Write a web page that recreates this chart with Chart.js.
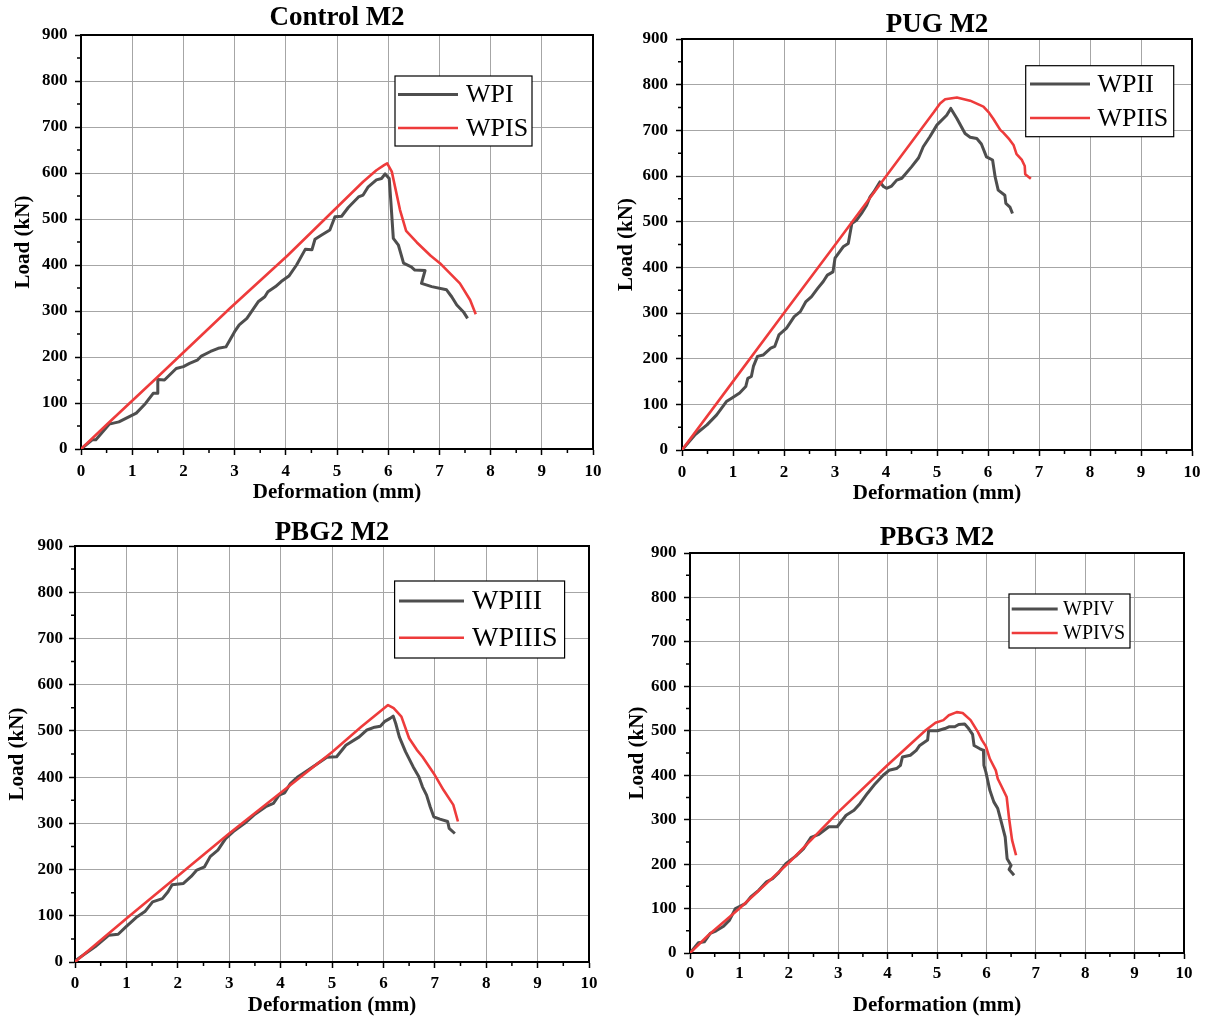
<!DOCTYPE html>
<html>
<head>
<meta charset="utf-8">
<title>Load - deformation curves, M2 series</title>
<script src="https://cdn.jsdelivr.net/npm/chart.js@4.4.0/dist/chart.umd.min.js"></script>
<style>
  html, body { margin: 0; padding: 0; background: #fff; overflow: hidden; }
  #sheet { position: relative; width: 1209px; height: 1018px; overflow: hidden; }
  #sheet canvas { position: absolute; }
</style>
</head>
<body>
<div id="sheet"></div>
<script>
// Deformation (mm) / load (kN) readings, one pair of arrays per specimen

// Control M2
const wpiDef = [0, 0.22, 0.29, 0.55, 0.74, 1.08, 1.26, 1.41, 1.49, 1.5, 1.63, 1.86, 2.0, 2.12, 2.27, 2.35, 2.53, 2.68, 2.83, 3.0,
  3.09, 3.24, 3.35, 3.46, 3.59, 3.65, 3.8, 3.91, 4.06, 4.21, 4.38, 4.51, 4.57, 4.70, 4.86, 4.96, 5.09, 5.22, 5.42, 5.51,
  5.61, 5.77, 5.87, 5.94, 6.02, 6.05, 6.10, 6.20, 6.30, 6.45, 6.52, 6.72, 6.65, 6.85, 7.14, 7.24, 7.34, 7.47, 7.55];
const wpiLoad = [0, 20, 20, 54, 59, 78, 99, 121, 121, 151, 150, 175, 179, 186, 193, 202, 212, 219, 222, 255,
  270, 284, 302, 320, 331, 342, 353, 364, 376, 400, 434, 433, 456, 465, 476, 505, 506, 525, 548, 552,
  570, 585, 588, 598, 588, 541, 458, 443, 404, 396, 389, 388, 360, 353, 346, 331, 313, 298, 284];
const wpisDef = [0, 0.52, 1.49, 2.91, 4.03, 5.51, 5.77, 5.92, 5.98, 6.07, 6.23, 6.35, 6.56, 6.83, 7.01, 7.40, 7.6, 7.71];
const wpisLoad = [0, 55, 156, 306, 420, 581, 606, 617, 621, 603, 520, 474, 449, 420, 404, 360, 324, 293];

// PUG M2
const wpiiDef = [0, 0.26, 0.49, 0.68, 0.87, 0.98, 1.13, 1.25, 1.29, 1.36, 1.40, 1.48, 1.59, 1.74, 1.82, 1.90, 2.05, 2.20, 2.32, 2.43,
  2.54, 2.66, 2.77, 2.85, 2.96, 3.0, 3.16, 3.26, 3.33, 3.42, 3.52, 3.62, 3.69, 3.76, 3.88, 3.95, 4.01, 4.11, 4.21, 4.31,
  4.50, 4.64, 4.73, 4.86, 5.0, 5.19, 5.27, 5.39, 5.55, 5.65, 5.78, 5.87, 5.97, 6.09, 6.14, 6.20, 6.33, 6.35, 6.43, 6.48];
const wpiiLoad = [0, 34, 55, 77, 106, 114, 125, 139, 157, 161, 183, 205, 208, 223, 227, 252, 267, 292, 303, 325,
  336, 354, 369, 383, 390, 420, 445, 452, 496, 503, 518, 536, 555, 565, 587, 577, 573, 578, 591, 595,
  620, 640, 664, 686, 712, 733, 748, 726, 693, 685, 682, 670, 642, 635, 598, 569, 558, 540, 532, 518];
const wpiisDef = [0, 1.02, 2.0, 3.0, 3.99, 4.94, 5.06, 5.16, 5.39, 5.65, 5.91, 6.01, 6.10, 6.24, 6.30, 6.42, 6.50, 6.56, 6.66, 6.72, 6.73, 6.84];
const wpiisLoad = [0, 153, 300, 449, 598, 740, 759, 768, 772, 765, 752, 740, 726, 701, 695, 680, 668, 648, 636, 622, 604, 594];

// PBG2 M2
const wpiiiDef = [0, 0.02, 0.21, 0.39, 0.66, 0.84, 0.99, 1.21, 1.36, 1.51, 1.70, 1.81, 1.89, 2.11, 2.26, 2.37, 2.52, 2.63, 2.78, 2.93,
  3.08, 3.30, 3.48, 3.71, 3.86, 3.97, 4.08, 4.19, 4.34, 4.53, 4.68, 4.90, 5.09, 5.27, 5.53, 5.68, 5.83, 5.94, 6.02, 6.13,
  6.19, 6.24, 6.31, 6.43, 6.58, 6.69, 6.76, 6.84, 6.91, 6.98, 7.10, 7.25, 7.28, 7.39];
const wpiiiLoad = [0, 4, 19, 33, 58, 60, 76, 98, 109, 130, 137, 152, 167, 170, 185, 199, 206, 228, 242, 267,
  282, 300, 318, 336, 343, 361, 366, 386, 401, 415, 426, 443, 444, 469, 487, 502, 508, 510, 520, 527,
  532, 516, 487, 455, 422, 401, 379, 361, 336, 314, 309, 304, 289, 278];
const wpiiisDef = [0, 0.66, 1.03, 3.0, 5.01, 5.57, 6.09, 6.2, 6.35, 6.5, 6.65, 6.76, 6.98, 7.17, 7.36, 7.45];
const wpiiisLoad = [0, 62, 97, 278, 455, 509, 556, 549, 531, 484, 459, 444, 408, 372, 340, 304];

// PBG3 M2
const wpivDef = [0, 0.17, 0.29, 0.41, 0.53, 0.68, 0.80, 0.92, 1.12, 1.23, 1.39, 1.55, 1.67, 1.78, 1.94, 2.14, 2.30, 2.45, 2.61, 2.81,
  2.98, 3.16, 3.32, 3.44, 3.59, 3.75, 3.91, 4.03, 4.18, 4.26, 4.30, 4.46, 4.58, 4.65, 4.81, 4.83, 5.01, 5.16, 5.24, 5.36,
  5.44, 5.56, 5.64, 5.72, 5.75, 5.86, 5.94, 5.95, 5.99, 6.07, 6.15, 6.23, 6.31, 6.38, 6.42, 6.50, 6.46, 6.56];
const wpivLoad = [0, 23, 25, 44, 50, 60, 74, 100, 111, 126, 141, 160, 167, 179, 201, 218, 235, 260, 267, 284,
  284, 310, 321, 336, 359, 381, 400, 411, 415, 422, 441, 445, 456, 467, 479, 500, 500, 505, 509, 509,
  514, 515, 505, 492, 467, 460, 456, 422, 407, 366, 340, 325, 291, 261, 212, 197, 188, 175];
const wpivsDef = [0, 0.37, 1.0, 2.02, 3.0, 3.99, 4.77, 4.97, 5.13, 5.24, 5.40, 5.52, 5.68, 5.83, 5.91, 5.99, 6.07, 6.19, 6.23, 6.31, 6.41, 6.46, 6.52, 6.60];
const wpivsLoad = [0, 40, 100, 205, 317, 422, 501, 518, 524, 535, 542, 540, 524, 497, 479, 465, 437, 411, 392, 374, 351, 302, 254, 220];

// axis ticks shared by all four plots
const xTickValues = [0, 1, 2, 3, 4, 5, 6, 7, 8, 9, 10];
const yTickValues = [0, 100, 200, 300, 400, 500, 600, 700, 800, 900];
const xMinorValues = [0.5, 1.5, 2.5, 3.5, 4.5, 5.5, 6.5, 7.5, 8.5, 9.5];
const yMinorValues = [50, 150, 250, 350, 450, 550, 650, 750, 850];

const SERIF = "'Liberation Serif', 'Times New Roman', Times, serif";
const DARK = '#4e4e4e';
const RED = '#ee3b3b';
const GRID = '#a6a6a6';
const TITLE_SIZE = 27, TITLE_LH = 0.95;
const AXIS_TITLE_SIZE = 21, AXIS_LH = 1.2;
const TICK_SIZE = 17, TICK_LH = 1.2;
const TICK_LEN = 6;

// plot geometry on the sheet (px); legend offsets are relative to the plot area
const panels = [
  {
    title: 'Control M2',
    series: [['WPI', wpiDef, wpiLoad], ['WPIS', wpisDef, wpisLoad]],
    area: { left: 81, right: 593, top: 35, bottom: 449 },
    titleY: 18.5, xTitleY: 493, yTitleX: 24, yTickRight: 67.5, xTickY: 471.5,
    legend: { x: 314, y: 41, w: 137, h: 70, line: [317, 377], rows: [59.5, 93], textX: 385, size: 26 }
  },
  {
    title: 'PUG M2',
    series: [['WPII', wpiiDef, wpiiLoad], ['WPIIS', wpiisDef, wpiisLoad]],
    area: { left: 682, right: 1192, top: 39, bottom: 450 },
    titleY: 25, xTitleY: 493.3, yTitleX: 627, yTickRight: 668, xTickY: 472.7,
    legend: { x: 343.7, y: 26.7, w: 148, h: 71, line: [348, 408], rows: [45, 79], textX: 415.5, size: 26 }
  },
  {
    title: 'PBG2 M2',
    series: [['WPIII', wpiiiDef, wpiiiLoad], ['WPIIIS', wpiiisDef, wpiiisLoad]],
    area: { left: 75, right: 589, top: 546, bottom: 962 },
    titleY: 532.7, xTitleY: 1006.7, yTitleX: 18, yTickRight: 63, xTickY: 984,
    legend: { x: 319.6, y: 35, w: 170, h: 77, line: [324, 389], rows: [55, 91.7], textX: 397, size: 28 }
  },
  {
    title: 'PBG3 M2',
    series: [['WPIV', wpivDef, wpivLoad], ['WPIVS', wpivsDef, wpivsLoad]],
    area: { left: 690, right: 1184, top: 553, bottom: 953 },
    titleY: 538, xTitleY: 1005.7, yTitleX: 637.6, yTickRight: 676.4, xTickY: 973.3,
    legend: { x: 319, y: 41, w: 121, h: 54, line: [321.7, 367.7], rows: [56, 80], textX: 373, size: 20 }
  }
];

// closed frame plus the small outward minor ticks
const framePlugin = {
  id: 'frame',
  afterDraw(chart) {
    const { ctx, chartArea: c, scales: { x, y } } = chart;
    ctx.save();
    ctx.strokeStyle = '#000';
    ctx.lineWidth = 2;
    ctx.beginPath();
    ctx.moveTo(c.left, c.top);
    ctx.lineTo(c.right, c.top);
    ctx.lineTo(c.right, c.bottom);
    ctx.stroke();
    ctx.lineWidth = 1.5;
    ctx.beginPath();
    xMinorValues.forEach(v => {
      const px = x.getPixelForValue(v);
      ctx.moveTo(px, c.bottom);
      ctx.lineTo(px, c.bottom + 4);
    });
    yMinorValues.forEach(v => {
      const py = y.getPixelForValue(v);
      ctx.moveTo(c.left, py);
      ctx.lineTo(c.left - 4, py);
    });
    ctx.stroke();
    ctx.restore();
  }
};

// boxed legend sitting inside the plot area
function legendBox(g) {
  return {
    id: 'legendBox',
    afterDraw(chart) {
      const { ctx, chartArea: c } = chart;
      ctx.save();
      ctx.fillStyle = '#fff';
      ctx.fillRect(c.left + g.x, c.top + g.y, g.w, g.h);
      ctx.strokeStyle = '#000';
      ctx.lineWidth = 1.2;
      ctx.strokeRect(c.left + g.x, c.top + g.y, g.w, g.h);
      chart.data.datasets.forEach((ds, i) => {
        const ly = c.top + g.rows[i];
        ctx.strokeStyle = ds.borderColor;
        ctx.lineWidth = ds.borderWidth;
        ctx.beginPath();
        ctx.moveTo(c.left + g.line[0], ly);
        ctx.lineTo(c.left + g.line[1], ly);
        ctx.stroke();
        ctx.fillStyle = '#000';
        ctx.font = g.size + 'px ' + SERIF;
        ctx.textBaseline = 'middle';
        ctx.textAlign = 'left';
        ctx.fillText(ds.label, c.left + g.textX, ly + 1);
      });
      ctx.restore();
    }
  };
}

function buildPanel(p) {
  const a = p.area;
  const titleHalf = TITLE_SIZE * TITLE_LH / 2;
  const axisHalf = AXIS_TITLE_SIZE * AXIS_LH / 2;
  const tickHalf = TICK_SIZE * TICK_LH / 2;
  const x0 = Math.floor(p.yTitleX - axisHalf - 2);
  const y0 = Math.floor(p.titleY - titleHalf - 2);
  const x1 = a.right + 16;
  const y1 = Math.min(1018, Math.ceil(p.xTitleY + axisHalf + 2));

  const canvas = document.createElement('canvas');
  canvas.width = x1 - x0;
  canvas.height = y1 - y0;
  canvas.style.left = x0 + 'px';
  canvas.style.top = y0 + 'px';
  canvas.style.width = (x1 - x0) + 'px';
  canvas.style.height = (y1 - y0) + 'px';
  document.getElementById('sheet').appendChild(canvas);

  const tickFont = { family: SERIF, size: TICK_SIZE, weight: 'bold', lineHeight: TICK_LH };
  const axisFont = { family: SERIF, size: AXIS_TITLE_SIZE, weight: 'bold', lineHeight: AXIS_LH };
  const grid = { color: GRID, lineWidth: 1, tickColor: '#000', tickLength: TICK_LEN, tickWidth: 1.5 };

  return new Chart(canvas, {
    type: 'scatter',
    data: {
      datasets: p.series.map(([label, xs, ys], i) => ({
        label,
        data: xs.map((x, k) => ({ x, y: ys[k] })),
        showLine: true,
        borderColor: i ? RED : DARK,
        backgroundColor: i ? RED : DARK,
        borderWidth: i ? 2.6 : 3,
        borderJoinStyle: 'round',
        pointRadius: 0,
        pointHoverRadius: 0,
        tension: 0,
        order: i ? 0 : 1
      }))
    },
    options: {
      responsive: false,
      animation: false,
      devicePixelRatio: 1,
      events: [],
      layout: { padding: { left: 0, top: 0, right: x1 - a.right, bottom: 0 } },
      plugins: {
        legend: { display: false },
        tooltip: { enabled: false },
        title: {
          display: true,
          text: p.title,
          fullSize: false,
          color: '#000',
          font: { family: SERIF, size: TITLE_SIZE, weight: 'bold', lineHeight: TITLE_LH },
          padding: { top: p.titleY - y0 - titleHalf, bottom: a.top - p.titleY - titleHalf }
        }
      },
      scales: {
        x: {
          type: 'linear',
          min: 0,
          max: 10,
          afterBuildTicks: s => { s.ticks = xTickValues.map(v => ({ value: v })); },
          afterFit: s => { s.height = y1 - a.bottom; },
          grid,
          border: { color: '#000', width: 2 },
          ticks: {
            color: '#000', font: tickFont, maxRotation: 0, autoSkip: false,
            padding: p.xTickY - a.bottom - TICK_LEN - tickHalf
          },
          title: {
            display: true, text: 'Deformation (mm)', color: '#000', font: axisFont,
            padding: { top: 0, bottom: Math.max(0, y1 - p.xTitleY - axisHalf) }
          }
        },
        y: {
          type: 'linear',
          min: 0,
          max: 900,
          afterBuildTicks: s => { s.ticks = yTickValues.map(v => ({ value: v })); },
          afterFit: s => { s.width = a.left - x0; },
          grid,
          border: { color: '#000', width: 2 },
          ticks: {
            color: '#000', font: tickFont, autoSkip: false,
            padding: a.left - p.yTickRight - TICK_LEN
          },
          title: {
            display: true, text: 'Load (kN)', color: '#000', font: axisFont,
            padding: { top: p.yTitleX - x0 - axisHalf, bottom: 0 }
          }
        }
      }
    },
    plugins: [framePlugin, legendBox(p.legend)]
  });
}

panels.forEach(buildPanel);
</script>
</body>
</html>
